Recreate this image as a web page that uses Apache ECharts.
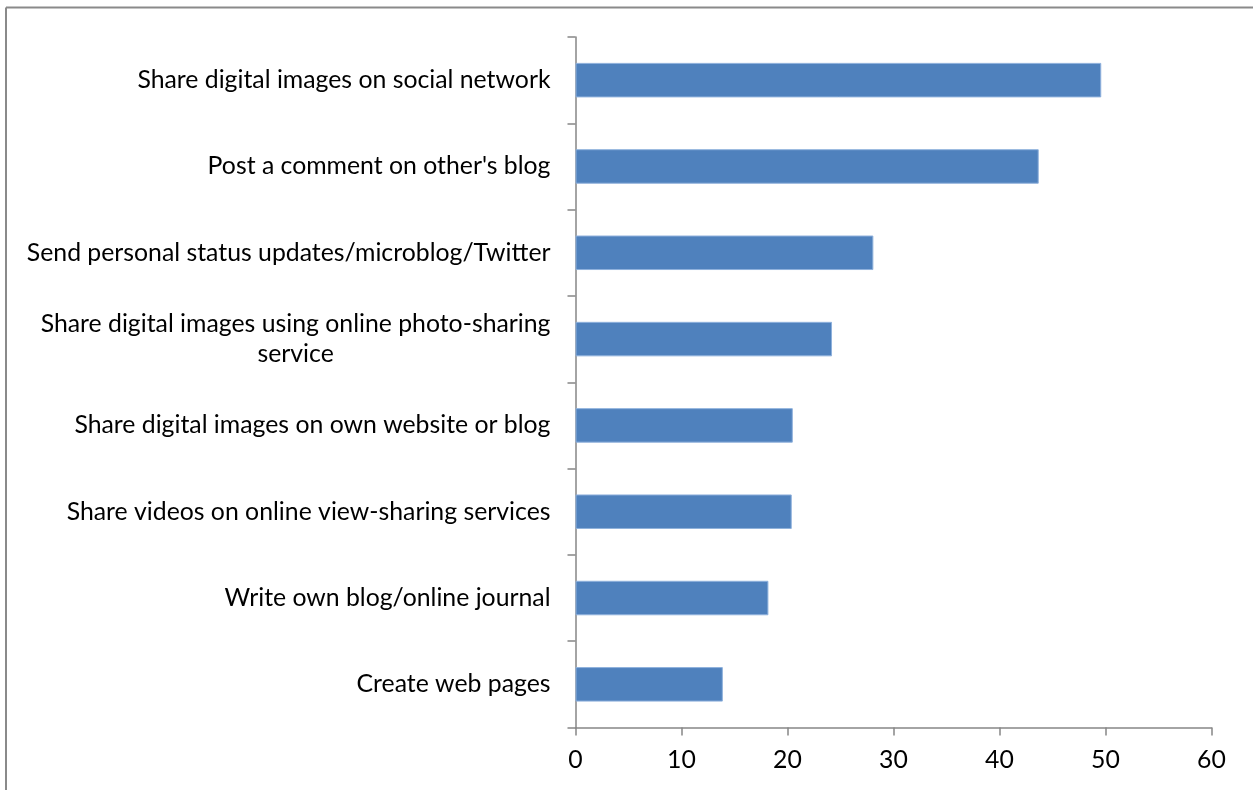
<!DOCTYPE html>
<html>
<head>
<meta charset="utf-8">
<script src="https://cdn.jsdelivr.net/npm/echarts@6/dist/echarts.min.js"></script>
<style>
  html, body { margin: 0; padding: 0; background: #ffffff; }
  #chart { width: 1253px; height: 790px; }
</style>
</head>
<body>
<div id="chart"></div>
<script>
// Online sharing activities (percent of respondents)
const categories = [
  "Share digital images on social network",
  "Post a comment on other's blog",
  "Send personal status updates/microblog/Twitter",
  "Share digital images using online photo-sharing\nservice",
  "Share digital images on own website or blog",
  "Share videos on online view-sharing services",
  "Write own blog/online journal",
  "Create web pages"
];
const values = [49.6, 43.7, 28.1, 24.2, 20.5, 20.4, 18.2, 13.9];
const xTicks = [0, 10, 20, 30, 40, 50, 60];

const FONT = 'Lato, "Open Sans", sans-serif';
const FONT_SIZE = 24.8;
const AXIS_GRAY = '#868686';

const chart = echarts.init(document.getElementById('chart'), null, { renderer: 'canvas' });

chart.setOption({
  animation: false,
  backgroundColor: '#ffffff',
  grid: { left: 575.5, right: 41.5, top: 37, bottom: 62.5, containLabel: false },
  graphic: [
    { type: 'line', shape: { x1: 6, y1: 7.5, x2: 1253, y2: 7.5 }, style: { stroke: '#8a8a8a', lineWidth: 2 } },
    { type: 'line', shape: { x1: 6, y1: 7.5, x2: 6, y2: 790 }, style: { stroke: '#8a8a8a', lineWidth: 2 } }
  ],
  xAxis: {
    type: 'value',
    min: xTicks[0],
    max: xTicks[xTicks.length - 1],
    interval: xTicks[1] - xTicks[0],
    axisLine: { show: true, lineStyle: { color: AXIS_GRAY, width: 1.5 } },
    axisTick: { show: true, length: 8, lineStyle: { color: AXIS_GRAY, width: 1.5 } },
    splitLine: { show: false },
    axisLabel: { color: '#000000', fontFamily: FONT, fontSize: FONT_SIZE, margin: 20 }
  },
  yAxis: {
    type: 'category',
    data: categories,
    inverse: true,
    axisLine: { show: true, lineStyle: { color: AXIS_GRAY, width: 1.5 } },
    axisTick: { show: true, length: 8, alignWithLabel: false, lineStyle: { color: AXIS_GRAY, width: 1.5 } },
    axisLabel: {
      color: '#000000',
      fontFamily: FONT,
      fontSize: FONT_SIZE,
      margin: 25,
      lineHeight: 30,
      interval: 0,
      formatter: function (v) {
        return v.split('\n').map(function (s) { return '{c|' + s + '}'; }).join('\n');
      },
      rich: {
        c: { align: 'center', color: '#000000', fontFamily: FONT, fontSize: FONT_SIZE, lineHeight: 30 }
      }
    }
  },
  series: [{
    type: 'bar',
    data: values,
    barWidth: '40%',
    itemStyle: { color: '#4f81bd', borderColor: '#8fb1dc', borderWidth: 1 }
  }]
});
</script>
</body>
</html>
